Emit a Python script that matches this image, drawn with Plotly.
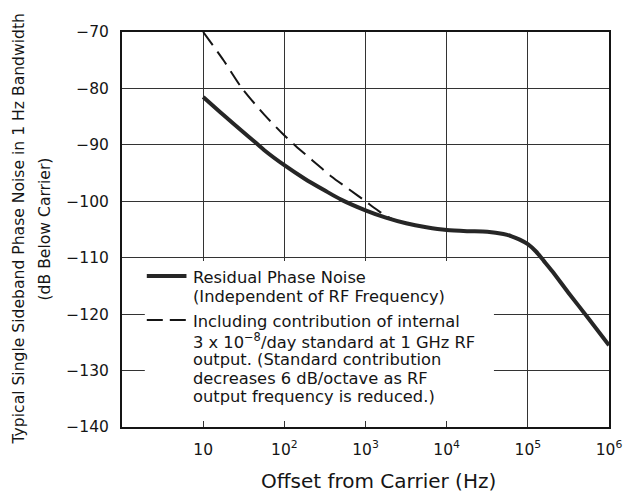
import plotly.graph_objects as go

# Residual phase noise (solid) — offset frequency (Hz) and level (dB below carrier)
resid_freq = [10, 17.8, 31.6, 42.7, 56.2, 100, 178, 316, 500, 1000, 1780, 3160, 5620,
              10000, 17800, 31600, 50000, 63100, 79400, 100000, 126000, 158000, 200000, 316000, 562000, 1000000]
resid_db = [-81.5, -84.7, -87.8, -89.4, -90.9, -93.6, -96.0, -98.1, -99.7, -101.6, -102.9, -103.9, -104.6,
            -105.1, -105.3, -105.4, -105.8, -106.2, -106.8, -107.6, -108.9, -110.6, -112.4, -116.2, -120.8, -125.5]

# Including contribution of internal standard (dashed)
std_freq = [10, 17.8, 29.5, 56.2, 93.3, 138, 224, 380, 631, 1000, 1260, 1550, 1780, 2240]
std_db = [-70.0, -75.0, -79.8, -84.6, -87.9, -90.2, -92.8, -95.6, -97.9, -100.0, -101.1, -102.0, -102.6, -103.3]

x_tickvals = [10, 100, 1000, 10000, 100000, 1000000]
x_ticktext = ["10", "10<sup>2</sup>", "10<sup>3</sup>", "10<sup>4</sup>", "10<sup>5</sup>", "10<sup>6</sup>"]
y_tickvals = [-70, -80, -90, -100, -110, -120, -130, -140]

legend_lines_1 = ["Residual Phase Noise", "(Independent of RF Frequency)"]
legend_lines_2 = ["Including contribution of internal",
                  "3 x 10<sup>−8</sup>/day standard at 1 GHz RF",
                  "output. (Standard contribution",
                  "decreases 6 dB/octave as RF",
                  "output frequency is reduced.)"]

y_title_1 = "Typical Single Sideband Phase Noise in 1 Hz Bandwidth"
y_title_2 = "(dB Below Carrier)"
x_title = "Offset from Carrier (Hz)"

FONT = "DejaVu Sans, Verdana, sans-serif"
INK = "#151515"

# plot-area pixel geometry (used only to place text/legend in paper coords)
PL, PR, PT, PB = 122, 613, 32, 427
PW, PH = PR - PL, PB - PT


def px(xp):
    return (xp - PL) / PW


def py(yp):
    return (PB - yp) / PH


fig = go.Figure()
fig.add_trace(go.Scatter(
    x=std_freq, y=std_db, mode="lines", showlegend=False,
    line=dict(color=INK, width=2, dash="16px,8px", shape="spline", smoothing=0.7),
    name="Including contribution of internal standard",
))
fig.add_trace(go.Scatter(
    x=resid_freq, y=resid_db, mode="lines", showlegend=False,
    line=dict(color="#262626", width=4, shape="spline", smoothing=0.7),
    name="Residual Phase Noise",
))

annotations = []
for i, t in enumerate(legend_lines_1):
    annotations.append(dict(text=t, xref="paper", yref="paper", x=px(192), y=py([277, 296][i]),
                            xanchor="left", yanchor="middle", showarrow=False,
                            font=dict(family=FONT, size=16.3, color=INK)))
for i, t in enumerate(legend_lines_2):
    annotations.append(dict(text=t, xref="paper", yref="paper", x=px(192), y=py([321, 341, 359, 378, 396][i]),
                            xanchor="left", yanchor="middle", showarrow=False,
                            font=dict(family=FONT, size=16.3, color=INK)))
annotations += [
    dict(text=y_title_1, textangle=-90, xref="paper", yref="paper", x=0, y=0.5,
         xanchor="center", yanchor="middle", xshift=-104, showarrow=False,
         font=dict(family=FONT, size=15.6, color=INK)),
    dict(text=y_title_2, textangle=-90, xref="paper", yref="paper", x=0, y=0.5,
         xanchor="center", yanchor="middle", xshift=-78, showarrow=False,
         font=dict(family=FONT, size=15.6, color=INK)),
    dict(text=x_title, xref="paper", yref="paper", x=px(381), y=py(481),
         xanchor="center", yanchor="middle", showarrow=False,
         font=dict(family=FONT, size=20, color=INK)),
]

shapes = [
    dict(type="rect", xref="paper", yref="paper", x0=px(145), x1=px(497), y0=py(421), y1=py(261),
         fillcolor="white", line=dict(width=0), layer="above"),
    dict(type="line", xref="paper", yref="paper", x0=px(147), x1=px(187), y0=py(276), y1=py(276),
         line=dict(color="#262626", width=4), layer="above"),
    dict(type="line", xref="paper", yref="paper", x0=px(147), x1=px(189), y0=py(320), y1=py(320),
         line=dict(color=INK, width=2, dash="16px,7px"), layer="above"),
]

# page body adds an 8px margin: shrink the figure so the plot lands where the reference has it
fig.update_layout(
    width=626, height=485,
    margin=dict(l=PL - 8, r=634 - PR, t=PT - 8, b=493 - PB),
    paper_bgcolor="white", plot_bgcolor="white",
    font=dict(family=FONT, size=15, color=INK),
    showlegend=False,
    xaxis=dict(
        type="log", range=[0, 6],
        tickvals=x_tickvals, ticktext=x_ticktext,
        showgrid=True, gridcolor="#333", gridwidth=1,
        showline=True, linecolor=INK, linewidth=2, mirror=True,
        ticks="", ticklabelstandoff=7,
        tickfont=dict(family=FONT, size=15.5, color=INK),
        zeroline=False,
    ),
    yaxis=dict(
        range=[-140, -70],
        tickvals=y_tickvals,
        showgrid=True, gridcolor="#333", gridwidth=1,
        showline=True, linecolor=INK, linewidth=2, mirror=True,
        ticks="", ticklabelstandoff=8,
        tickfont=dict(family=FONT, size=15.5, color=INK),
        zeroline=False,
    ),
    annotations=annotations,
    shapes=shapes,
)

fig.write_html("out.html")
